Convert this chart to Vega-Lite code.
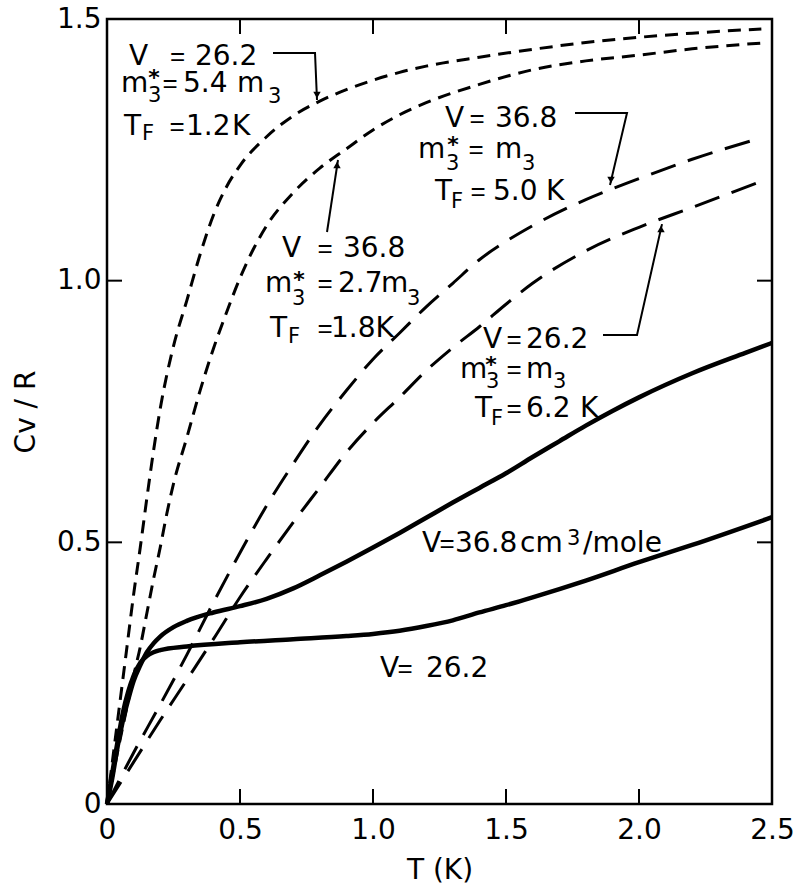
{
  "$schema": "https://vega.github.io/schema/vega-lite/v6.json",
  "width": 665,
  "height": 785,
  "autosize": "none",
  "padding": {"left": 107, "top": 19, "right": 27, "bottom": 82},
  "background": "white",
  "config": {
    "font": "DejaVu Sans",
    "view": {"stroke": "black", "strokeWidth": 2.5},
    "axis": {
      "grid": false,
      "domain": false,
      "ticks": false,
      "tickSize": 0,
      "labelColor": "black",
      "labelFont": "DejaVu Sans",
      "labelFontSize": 28,
      "labelFlush": false,
      "labelOverlap": false,
      "titleColor": "black",
      "titleFont": "DejaVu Sans",
      "titleFontSize": 28,
      "titleFontWeight": "normal"
    }
  },
  "datasets": {
    "curves": [
      {"curve": "ideal 26.2 TF1.2", "T": 0, "C": 0},
      {"curve": "ideal 26.2 TF1.2", "T": 0.025, "C": 0.1},
      {"curve": "ideal 26.2 TF1.2", "T": 0.05, "C": 0.2},
      {"curve": "ideal 26.2 TF1.2", "T": 0.075, "C": 0.3},
      {"curve": "ideal 26.2 TF1.2", "T": 0.1, "C": 0.4},
      {"curve": "ideal 26.2 TF1.2", "T": 0.125, "C": 0.49},
      {"curve": "ideal 26.2 TF1.2", "T": 0.15, "C": 0.585},
      {"curve": "ideal 26.2 TF1.2", "T": 0.175, "C": 0.675},
      {"curve": "ideal 26.2 TF1.2", "T": 0.2, "C": 0.755},
      {"curve": "ideal 26.2 TF1.2", "T": 0.25, "C": 0.875},
      {"curve": "ideal 26.2 TF1.2", "T": 0.3, "C": 0.962},
      {"curve": "ideal 26.2 TF1.2", "T": 0.35, "C": 1.05},
      {"curve": "ideal 26.2 TF1.2", "T": 0.4, "C": 1.125},
      {"curve": "ideal 26.2 TF1.2", "T": 0.45, "C": 1.18},
      {"curve": "ideal 26.2 TF1.2", "T": 0.5, "C": 1.22},
      {"curve": "ideal 26.2 TF1.2", "T": 0.6, "C": 1.275},
      {"curve": "ideal 26.2 TF1.2", "T": 0.7, "C": 1.315},
      {"curve": "ideal 26.2 TF1.2", "T": 0.8, "C": 1.343},
      {"curve": "ideal 26.2 TF1.2", "T": 0.9, "C": 1.365},
      {"curve": "ideal 26.2 TF1.2", "T": 1.0, "C": 1.383},
      {"curve": "ideal 26.2 TF1.2", "T": 1.1, "C": 1.398},
      {"curve": "ideal 26.2 TF1.2", "T": 1.2, "C": 1.41},
      {"curve": "ideal 26.2 TF1.2", "T": 1.4, "C": 1.427},
      {"curve": "ideal 26.2 TF1.2", "T": 1.6, "C": 1.442},
      {"curve": "ideal 26.2 TF1.2", "T": 1.8, "C": 1.455},
      {"curve": "ideal 26.2 TF1.2", "T": 2.0, "C": 1.465},
      {"curve": "ideal 26.2 TF1.2", "T": 2.2, "C": 1.473},
      {"curve": "ideal 26.2 TF1.2", "T": 2.46, "C": 1.481},

      {"curve": "ideal 36.8 TF1.8", "T": 0, "C": 0},
      {"curve": "ideal 36.8 TF1.8", "T": 0.025, "C": 0.062},
      {"curve": "ideal 36.8 TF1.8", "T": 0.05, "C": 0.125},
      {"curve": "ideal 36.8 TF1.8", "T": 0.075, "C": 0.185},
      {"curve": "ideal 36.8 TF1.8", "T": 0.1, "C": 0.245},
      {"curve": "ideal 36.8 TF1.8", "T": 0.125, "C": 0.3},
      {"curve": "ideal 36.8 TF1.8", "T": 0.15, "C": 0.365},
      {"curve": "ideal 36.8 TF1.8", "T": 0.175, "C": 0.43},
      {"curve": "ideal 36.8 TF1.8", "T": 0.2, "C": 0.49},
      {"curve": "ideal 36.8 TF1.8", "T": 0.225, "C": 0.555},
      {"curve": "ideal 36.8 TF1.8", "T": 0.25, "C": 0.612},
      {"curve": "ideal 36.8 TF1.8", "T": 0.3, "C": 0.7},
      {"curve": "ideal 36.8 TF1.8", "T": 0.35, "C": 0.79},
      {"curve": "ideal 36.8 TF1.8", "T": 0.4, "C": 0.87},
      {"curve": "ideal 36.8 TF1.8", "T": 0.45, "C": 0.94},
      {"curve": "ideal 36.8 TF1.8", "T": 0.5, "C": 1.005},
      {"curve": "ideal 36.8 TF1.8", "T": 0.55, "C": 1.06},
      {"curve": "ideal 36.8 TF1.8", "T": 0.6, "C": 1.105},
      {"curve": "ideal 36.8 TF1.8", "T": 0.7, "C": 1.168},
      {"curve": "ideal 36.8 TF1.8", "T": 0.8, "C": 1.215},
      {"curve": "ideal 36.8 TF1.8", "T": 0.9, "C": 1.252},
      {"curve": "ideal 36.8 TF1.8", "T": 1.0, "C": 1.288},
      {"curve": "ideal 36.8 TF1.8", "T": 1.1, "C": 1.317},
      {"curve": "ideal 36.8 TF1.8", "T": 1.2, "C": 1.34},
      {"curve": "ideal 36.8 TF1.8", "T": 1.4, "C": 1.375},
      {"curve": "ideal 36.8 TF1.8", "T": 1.6, "C": 1.403},
      {"curve": "ideal 36.8 TF1.8", "T": 1.8, "C": 1.42},
      {"curve": "ideal 36.8 TF1.8", "T": 2.0, "C": 1.431},
      {"curve": "ideal 36.8 TF1.8", "T": 2.2, "C": 1.443},
      {"curve": "ideal 36.8 TF1.8", "T": 2.46, "C": 1.454},

      {"curve": "ideal 36.8 TF5.0", "T": 0, "C": 0},
      {"curve": "ideal 36.8 TF5.0", "T": 0.1, "C": 0.098},
      {"curve": "ideal 36.8 TF5.0", "T": 0.2, "C": 0.19},
      {"curve": "ideal 36.8 TF5.0", "T": 0.3, "C": 0.285},
      {"curve": "ideal 36.8 TF5.0", "T": 0.4, "C": 0.385},
      {"curve": "ideal 36.8 TF5.0", "T": 0.5, "C": 0.48},
      {"curve": "ideal 36.8 TF5.0", "T": 0.6, "C": 0.57},
      {"curve": "ideal 36.8 TF5.0", "T": 0.7, "C": 0.65},
      {"curve": "ideal 36.8 TF5.0", "T": 0.8, "C": 0.725},
      {"curve": "ideal 36.8 TF5.0", "T": 0.9, "C": 0.79},
      {"curve": "ideal 36.8 TF5.0", "T": 1.0, "C": 0.85},
      {"curve": "ideal 36.8 TF5.0", "T": 1.1, "C": 0.9},
      {"curve": "ideal 36.8 TF5.0", "T": 1.2, "C": 0.95},
      {"curve": "ideal 36.8 TF5.0", "T": 1.3, "C": 0.995},
      {"curve": "ideal 36.8 TF5.0", "T": 1.4, "C": 1.04},
      {"curve": "ideal 36.8 TF5.0", "T": 1.5, "C": 1.075},
      {"curve": "ideal 36.8 TF5.0", "T": 1.6, "C": 1.105},
      {"curve": "ideal 36.8 TF5.0", "T": 1.8, "C": 1.155},
      {"curve": "ideal 36.8 TF5.0", "T": 2.0, "C": 1.195},
      {"curve": "ideal 36.8 TF5.0", "T": 2.2, "C": 1.232},
      {"curve": "ideal 36.8 TF5.0", "T": 2.46, "C": 1.273},

      {"curve": "ideal 26.2 TF6.2", "T": 0, "C": 0},
      {"curve": "ideal 26.2 TF6.2", "T": 0.1, "C": 0.08},
      {"curve": "ideal 26.2 TF6.2", "T": 0.2, "C": 0.16},
      {"curve": "ideal 26.2 TF6.2", "T": 0.3, "C": 0.237},
      {"curve": "ideal 26.2 TF6.2", "T": 0.4, "C": 0.315},
      {"curve": "ideal 26.2 TF6.2", "T": 0.5, "C": 0.395},
      {"curve": "ideal 26.2 TF6.2", "T": 0.6, "C": 0.468},
      {"curve": "ideal 26.2 TF6.2", "T": 0.7, "C": 0.538},
      {"curve": "ideal 26.2 TF6.2", "T": 0.8, "C": 0.605},
      {"curve": "ideal 26.2 TF6.2", "T": 0.9, "C": 0.672},
      {"curve": "ideal 26.2 TF6.2", "T": 1.0, "C": 0.728},
      {"curve": "ideal 26.2 TF6.2", "T": 1.1, "C": 0.777},
      {"curve": "ideal 26.2 TF6.2", "T": 1.2, "C": 0.828},
      {"curve": "ideal 26.2 TF6.2", "T": 1.3, "C": 0.872},
      {"curve": "ideal 26.2 TF6.2", "T": 1.4, "C": 0.912},
      {"curve": "ideal 26.2 TF6.2", "T": 1.5, "C": 0.955},
      {"curve": "ideal 26.2 TF6.2", "T": 1.6, "C": 0.995},
      {"curve": "ideal 26.2 TF6.2", "T": 1.8, "C": 1.057},
      {"curve": "ideal 26.2 TF6.2", "T": 2.0, "C": 1.102},
      {"curve": "ideal 26.2 TF6.2", "T": 2.2, "C": 1.14},
      {"curve": "ideal 26.2 TF6.2", "T": 2.46, "C": 1.19},

      {"curve": "measured 36.8", "T": 0, "C": 0},
      {"curve": "measured 36.8", "T": 0.02, "C": 0.05},
      {"curve": "measured 36.8", "T": 0.04, "C": 0.11},
      {"curve": "measured 36.8", "T": 0.06, "C": 0.16},
      {"curve": "measured 36.8", "T": 0.08, "C": 0.2},
      {"curve": "measured 36.8", "T": 0.1, "C": 0.235},
      {"curve": "measured 36.8", "T": 0.125, "C": 0.265},
      {"curve": "measured 36.8", "T": 0.15, "C": 0.29},
      {"curve": "measured 36.8", "T": 0.175, "C": 0.307},
      {"curve": "measured 36.8", "T": 0.2, "C": 0.32},
      {"curve": "measured 36.8", "T": 0.25, "C": 0.338},
      {"curve": "measured 36.8", "T": 0.3, "C": 0.35},
      {"curve": "measured 36.8", "T": 0.4, "C": 0.366},
      {"curve": "measured 36.8", "T": 0.5, "C": 0.378},
      {"curve": "measured 36.8", "T": 0.6, "C": 0.392},
      {"curve": "measured 36.8", "T": 0.7, "C": 0.412},
      {"curve": "measured 36.8", "T": 0.8, "C": 0.437},
      {"curve": "measured 36.8", "T": 0.9, "C": 0.463},
      {"curve": "measured 36.8", "T": 1.0, "C": 0.49},
      {"curve": "measured 36.8", "T": 1.1, "C": 0.518},
      {"curve": "measured 36.8", "T": 1.2, "C": 0.547},
      {"curve": "measured 36.8", "T": 1.3, "C": 0.576},
      {"curve": "measured 36.8", "T": 1.4, "C": 0.604},
      {"curve": "measured 36.8", "T": 1.5, "C": 0.632},
      {"curve": "measured 36.8", "T": 1.6, "C": 0.663},
      {"curve": "measured 36.8", "T": 1.7, "C": 0.693},
      {"curve": "measured 36.8", "T": 1.8, "C": 0.723},
      {"curve": "measured 36.8", "T": 1.9, "C": 0.751},
      {"curve": "measured 36.8", "T": 2.0, "C": 0.777},
      {"curve": "measured 36.8", "T": 2.2, "C": 0.823},
      {"curve": "measured 36.8", "T": 2.4, "C": 0.862},
      {"curve": "measured 36.8", "T": 2.5, "C": 0.881},

      {"curve": "measured 26.2", "T": 0, "C": 0},
      {"curve": "measured 26.2", "T": 0.02, "C": 0.06},
      {"curve": "measured 26.2", "T": 0.04, "C": 0.12},
      {"curve": "measured 26.2", "T": 0.06, "C": 0.175},
      {"curve": "measured 26.2", "T": 0.08, "C": 0.215},
      {"curve": "measured 26.2", "T": 0.1, "C": 0.245},
      {"curve": "measured 26.2", "T": 0.125, "C": 0.27},
      {"curve": "measured 26.2", "T": 0.15, "C": 0.283},
      {"curve": "measured 26.2", "T": 0.175, "C": 0.29},
      {"curve": "measured 26.2", "T": 0.2, "C": 0.294},
      {"curve": "measured 26.2", "T": 0.3, "C": 0.301},
      {"curve": "measured 26.2", "T": 0.5, "C": 0.309},
      {"curve": "measured 26.2", "T": 0.7, "C": 0.315},
      {"curve": "measured 26.2", "T": 0.9, "C": 0.321},
      {"curve": "measured 26.2", "T": 1.0, "C": 0.325},
      {"curve": "measured 26.2", "T": 1.1, "C": 0.331},
      {"curve": "measured 26.2", "T": 1.2, "C": 0.34},
      {"curve": "measured 26.2", "T": 1.3, "C": 0.351},
      {"curve": "measured 26.2", "T": 1.4, "C": 0.366},
      {"curve": "measured 26.2", "T": 1.5, "C": 0.38},
      {"curve": "measured 26.2", "T": 1.6, "C": 0.395},
      {"curve": "measured 26.2", "T": 1.8, "C": 0.427},
      {"curve": "measured 26.2", "T": 2.0, "C": 0.462},
      {"curve": "measured 26.2", "T": 2.2, "C": 0.495},
      {"curve": "measured 26.2", "T": 2.5, "C": 0.548}
    ],
    "labels": [
      {"role": "main", "text": "V", "T": 0.0827, "C": 1.4121},
      {"role": "eq", "text": "=", "T": 0.265, "C": 1.4121},
      {"role": "main", "text": "26.2", "T": 0.3308, "C": 1.4121},
      {"role": "main", "text": "m", "T": 0.0526, "C": 1.3605},
      {"role": "star", "text": "*", "T": 0.1767, "C": 1.3739},
      {"role": "sub", "text": "3", "T": 0.1541, "C": 1.3414},
      {"role": "eq", "text": "=", "T": 0.2368, "C": 1.3605},
      {"role": "main", "text": "5.4", "T": 0.2857, "C": 1.3605},
      {"role": "main", "text": "m", "T": 0.4887, "C": 1.3605},
      {"role": "sub", "text": "3", "T": 0.6053, "C": 1.3395},
      {"role": "main", "text": "T", "T": 0.0639, "C": 1.2784},
      {"role": "sub", "text": "F", "T": 0.1316, "C": 1.2688},
      {"role": "eq", "text": "=", "T": 0.2632, "C": 1.2784},
      {"role": "main", "text": "1.2", "T": 0.297, "C": 1.2784},
      {"role": "main", "text": "K", "T": 0.4699, "C": 1.2784},

      {"role": "main", "text": "V", "T": 0.6579, "C": 1.0452},
      {"role": "eq", "text": "=", "T": 0.8195, "C": 1.0452},
      {"role": "main", "text": "36.8", "T": 0.8872, "C": 1.0452},
      {"role": "main", "text": "m", "T": 0.594, "C": 0.9783},
      {"role": "star", "text": "*", "T": 0.7218, "C": 0.9879},
      {"role": "sub", "text": "3", "T": 0.6955, "C": 0.9535},
      {"role": "eq", "text": "=", "T": 0.8195, "C": 0.9783},
      {"role": "main", "text": "2.7", "T": 0.8684, "C": 0.9783},
      {"role": "main", "text": "m", "T": 1.0301, "C": 0.9783},
      {"role": "sub", "text": "3", "T": 1.1278, "C": 0.9535},
      {"role": "main", "text": "T", "T": 0.6128, "C": 0.8924},
      {"role": "sub", "text": "F", "T": 0.6805, "C": 0.8809},
      {"role": "eq", "text": "=", "T": 0.8195, "C": 0.8924},
      {"role": "main", "text": "1.8K", "T": 0.8421, "C": 0.8924},

      {"role": "main", "text": "V", "T": 1.2707, "C": 1.2936},
      {"role": "eq", "text": "=", "T": 1.391, "C": 1.2936},
      {"role": "main", "text": "36.8", "T": 1.4586, "C": 1.2936},
      {"role": "main", "text": "m", "T": 1.1692, "C": 1.2344},
      {"role": "star", "text": "*", "T": 1.3008, "C": 1.2459},
      {"role": "sub", "text": "3", "T": 1.2744, "C": 1.2115},
      {"role": "eq", "text": "=", "T": 1.3872, "C": 1.2344},
      {"role": "main", "text": "m", "T": 1.4586, "C": 1.2344},
      {"role": "sub", "text": "3", "T": 1.5602, "C": 1.2115},
      {"role": "main", "text": "T", "T": 1.2331, "C": 1.1542},
      {"role": "sub", "text": "F", "T": 1.2932, "C": 1.1389},
      {"role": "eq", "text": "=", "T": 1.3947, "C": 1.1542},
      {"role": "main", "text": "5.0", "T": 1.4511, "C": 1.1542},
      {"role": "main", "text": "K", "T": 1.6504, "C": 1.1542},

      {"role": "main", "text": "V", "T": 1.4135, "C": 0.8713},
      {"role": "eq", "text": "=", "T": 1.5301, "C": 0.8713},
      {"role": "main", "text": "26.2", "T": 1.5752, "C": 0.8713},
      {"role": "main", "text": "m", "T": 1.3271, "C": 0.814},
      {"role": "star", "text": "*", "T": 1.4436, "C": 0.8255},
      {"role": "sub", "text": "3", "T": 1.4248, "C": 0.7949},
      {"role": "eq", "text": "=", "T": 1.5301, "C": 0.814},
      {"role": "main", "text": "m", "T": 1.5752, "C": 0.814},
      {"role": "sub", "text": "3", "T": 1.6767, "C": 0.7949},
      {"role": "main", "text": "T", "T": 1.3835, "C": 0.7395},
      {"role": "sub", "text": "F", "T": 1.4436, "C": 0.7242},
      {"role": "eq", "text": "=", "T": 1.5301, "C": 0.7395},
      {"role": "main", "text": "6.2", "T": 1.5752, "C": 0.7395},
      {"role": "main", "text": "K", "T": 1.7782, "C": 0.7395},

      {"role": "main", "text": "V", "T": 1.1842, "C": 0.4815},
      {"role": "eq", "text": "=", "T": 1.2782, "C": 0.4815},
      {"role": "main", "text": "36.8", "T": 1.3083, "C": 0.4815},
      {"role": "main", "text": "cm", "T": 1.5526, "C": 0.4815},
      {"role": "sup", "text": "3", "T": 1.7293, "C": 0.4949},
      {"role": "main", "text": "/mole", "T": 1.7895, "C": 0.4815},

      {"role": "main", "text": "V", "T": 1.0263, "C": 0.2427},
      {"role": "eq", "text": "=", "T": 1.1203, "C": 0.2427},
      {"role": "main", "text": "26.2", "T": 1.1992, "C": 0.2427}
    ],
    "leaders": [
      {"leader": 1, "step": 1, "T": 0.6241, "C": 1.4351},
      {"leader": 1, "step": 2, "T": 0.782, "C": 1.4351},
      {"leader": 1, "step": 3, "T": 0.7895, "C": 1.3453},
      {"leader": 2, "step": 1, "T": 0.8271, "C": 1.093},
      {"leader": 2, "step": 2, "T": 0.8684, "C": 1.2306},
      {"leader": 3, "step": 1, "T": 1.7594, "C": 1.3204},
      {"leader": 3, "step": 2, "T": 1.9549, "C": 1.3204},
      {"leader": 3, "step": 3, "T": 1.891, "C": 1.1828},
      {"leader": 4, "step": 1, "T": 1.8647, "C": 0.8962},
      {"leader": 4, "step": 2, "T": 1.9925, "C": 0.8962},
      {"leader": 4, "step": 3, "T": 2.0865, "C": 1.108}
    ],
    "arrows": [
      {"dir": "down", "T": 0.7895, "C": 1.3548},
      {"dir": "up", "T": 0.8647, "C": 1.221},
      {"dir": "down", "T": 1.8947, "C": 1.1924},
      {"dir": "up", "T": 2.0827, "C": 1.0987}
    ],
    "ticks": [
      {"axis": "T", "v": 0.5},
      {"axis": "T", "v": 1.0},
      {"axis": "T", "v": 1.5},
      {"axis": "T", "v": 2.0},
      {"axis": "C", "v": 0.5},
      {"axis": "C", "v": 1.0}
    ]
  },
  "resolve": {"axis": {"x": "independent", "y": "independent"}},
  "layer": [
    {
      "data": {"name": "curves"},
      "transform": [{"filter": {"field": "curve", "oneOf": ["ideal 26.2 TF1.2", "ideal 36.8 TF1.8"]}}],
      "mark": {"type": "line", "color": "black", "strokeWidth": 3, "strokeDash": [13, 8], "interpolate": "monotone", "strokeCap": "butt"},
      "encoding": {
        "x": {
          "field": "T", "type": "quantitative",
          "scale": {"domain": [0, 2.5], "nice": false, "zero": false},
          "axis": {
            "orient": "bottom",
            "values": [0, 0.5, 1, 1.5, 2, 2.5],
            "labelExpr": "datum.value == 0 ? '0' : format(datum.value, '.1f')",
            "labelPadding": 12,
            "title": "T (K)",
            "titlePadding": 12
          }
        },
        "y": {
          "field": "C", "type": "quantitative",
          "scale": {"domain": [0, 1.5], "nice": false, "zero": false},
          "axis": {
            "orient": "left",
            "values": [0, 0.5, 1, 1.5],
            "labelExpr": "datum.value == 0 ? '0' : format(datum.value, '.1f')",
            "labelPadding": 6,
            "title": "Cv / R",
            "titlePadding": 16
          }
        },
        "detail": {"field": "curve"}
      }
    },
    {
      "data": {"name": "curves"},
      "transform": [{"filter": {"field": "curve", "oneOf": ["ideal 36.8 TF5.0", "ideal 26.2 TF6.2"]}}],
      "mark": {"type": "line", "color": "black", "strokeWidth": 3, "strokeDash": [26, 13], "interpolate": "monotone", "strokeCap": "butt"},
      "encoding": {
        "x": {"field": "T", "type": "quantitative", "axis": null},
        "y": {"field": "C", "type": "quantitative", "axis": null},
        "detail": {"field": "curve"}
      }
    },
    {
      "data": {"name": "curves"},
      "transform": [{"filter": {"field": "curve", "oneOf": ["measured 36.8", "measured 26.2"]}}],
      "mark": {"type": "line", "color": "black", "strokeWidth": 4.5, "interpolate": "monotone"},
      "encoding": {
        "x": {"field": "T", "type": "quantitative", "axis": null},
        "y": {"field": "C", "type": "quantitative", "axis": null},
        "detail": {"field": "curve"}
      }
    },
    {
      "data": {"name": "ticks"},
      "transform": [{"filter": "datum.axis == 'T'"}],
      "mark": {"type": "rule", "color": "black", "strokeWidth": 2, "y2Offset": -15},
      "encoding": {
        "x": {"field": "v", "type": "quantitative", "axis": null},
        "y": {"datum": 0, "type": "quantitative", "axis": null},
        "y2": {"datum": 0}
      }
    },
    {
      "data": {"name": "ticks"},
      "transform": [{"filter": "datum.axis == 'T'"}],
      "mark": {"type": "rule", "color": "black", "strokeWidth": 2, "y2Offset": 15},
      "encoding": {
        "x": {"field": "v", "type": "quantitative", "axis": null},
        "y": {"datum": 1.5, "type": "quantitative", "axis": null},
        "y2": {"datum": 1.5}
      }
    },
    {
      "data": {"name": "ticks"},
      "transform": [{"filter": "datum.axis == 'C'"}],
      "mark": {"type": "rule", "color": "black", "strokeWidth": 2, "x2Offset": 15},
      "encoding": {
        "y": {"field": "v", "type": "quantitative", "axis": null},
        "x": {"datum": 0, "type": "quantitative", "axis": null},
        "x2": {"datum": 0}
      }
    },
    {
      "data": {"name": "ticks"},
      "transform": [{"filter": "datum.axis == 'C'"}],
      "mark": {"type": "rule", "color": "black", "strokeWidth": 2, "x2Offset": -15},
      "encoding": {
        "y": {"field": "v", "type": "quantitative", "axis": null},
        "x": {"datum": 2.5, "type": "quantitative", "axis": null},
        "x2": {"datum": 2.5}
      }
    },
    {
      "data": {"name": "leaders"},
      "mark": {"type": "line", "color": "black", "strokeWidth": 2},
      "encoding": {
        "x": {"field": "T", "type": "quantitative", "axis": null},
        "y": {"field": "C", "type": "quantitative", "axis": null},
        "detail": {"field": "leader"},
        "order": {"field": "step"}
      }
    },
    {
      "data": {"name": "arrows"},
      "mark": {"type": "point", "filled": true, "color": "black", "size": 55, "opacity": 1},
      "encoding": {
        "x": {"field": "T", "type": "quantitative", "axis": null},
        "y": {"field": "C", "type": "quantitative", "axis": null},
        "shape": {"field": "dir", "type": "nominal", "scale": {"domain": ["up", "down"], "range": ["triangle-up", "triangle-down"]}, "legend": null}
      }
    },
    {
      "data": {"name": "labels"},
      "transform": [{"filter": "datum.role == 'main'"}],
      "mark": {"type": "text", "align": "left", "baseline": "alphabetic", "fontSize": 28, "font": "DejaVu Sans", "color": "black"},
      "encoding": {
        "x": {"field": "T", "type": "quantitative", "axis": null},
        "y": {"field": "C", "type": "quantitative", "axis": null},
        "text": {"field": "text"}
      }
    },
    {
      "data": {"name": "labels"},
      "transform": [{"filter": "datum.role == 'eq'"}],
      "mark": {"type": "text", "align": "center", "baseline": "alphabetic", "fontSize": 26, "font": "Liberation Sans", "color": "black"},
      "encoding": {
        "x": {"field": "T", "type": "quantitative", "axis": null},
        "y": {"field": "C", "type": "quantitative", "axis": null},
        "text": {"field": "text"}
      }
    },
    {
      "data": {"name": "labels"},
      "transform": [{"filter": "datum.role == 'sub' || datum.role == 'sup'"}],
      "mark": {"type": "text", "align": "left", "baseline": "alphabetic", "fontSize": 21, "font": "DejaVu Sans", "color": "black"},
      "encoding": {
        "x": {"field": "T", "type": "quantitative", "axis": null},
        "y": {"field": "C", "type": "quantitative", "axis": null},
        "text": {"field": "text"}
      }
    },
    {
      "data": {"name": "labels"},
      "transform": [{"filter": "datum.role == 'star'"}],
      "mark": {"type": "text", "align": "center", "baseline": "alphabetic", "fontSize": 22, "fontWeight": "bold", "font": "DejaVu Sans", "color": "black"},
      "encoding": {
        "x": {"field": "T", "type": "quantitative", "axis": null},
        "y": {"field": "C", "type": "quantitative", "axis": null},
        "text": {"field": "text"}
      }
    }
  ]
}
